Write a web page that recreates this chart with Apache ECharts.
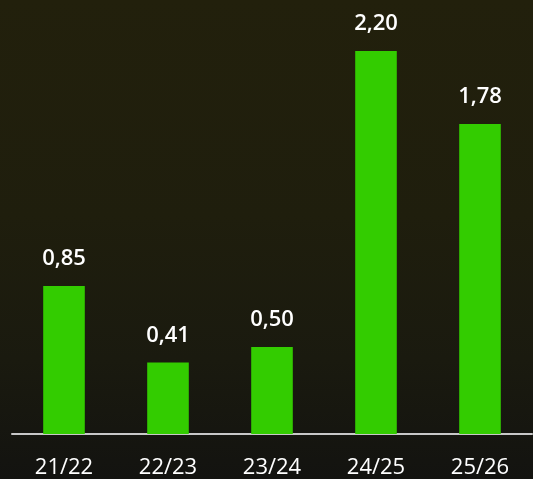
<!DOCTYPE html>
<html>
<head>
<meta charset="utf-8">
<script src="https://cdn.jsdelivr.net/npm/echarts@6/dist/echarts.min.js"></script>
<style>
html,body{margin:0;padding:0;width:533px;height:479px;overflow:hidden;}
#c{width:533px;height:479px;background:linear-gradient(180deg,#22200c 0%,#1f1e0d 45%,#1a1a0f 75%,#131310 100%);}
</style>
</head>
<body>
<div id="c"></div>
<script>
const categories = ['21/22', '22/23', '23/24', '24/25', '25/26'];
const values = [0.85, 0.41, 0.50, 2.20, 1.78];

const chart = echarts.init(document.getElementById('c'), null, {renderer: 'canvas'});
chart.setOption({
  backgroundColor: 'transparent',
  animation: false,
  grid: {left: 12, right: 1, top: 51, bottom: 43, containLabel: false},
  xAxis: {
    type: 'category',
    data: categories,
    axisLine: {show: true, lineStyle: {color: '#c8c8c8', width: 2}},
    axisTick: {show: false},
    axisLabel: {color: '#ffffff', fontSize: 22, fontFamily: 'Open Sans', margin: 23}
  },
  yAxis: {
    type: 'value',
    min: 0,
    max: 2.2,
    show: false,
    splitLine: {show: false}
  },
  series: [{
    type: 'bar',
    data: values,
    barWidth: '40%',
    itemStyle: {color: '#33cc00'},
    label: {
      show: true,
      position: 'top',
      distance: 16,
      color: '#ffffff',
      fontSize: 22,
      fontWeight: 600,
      fontFamily: 'Open Sans',
      formatter: p => p.value.toFixed(2).replace('.', ',')
    }
  }]
});
</script>
</body>
</html>
